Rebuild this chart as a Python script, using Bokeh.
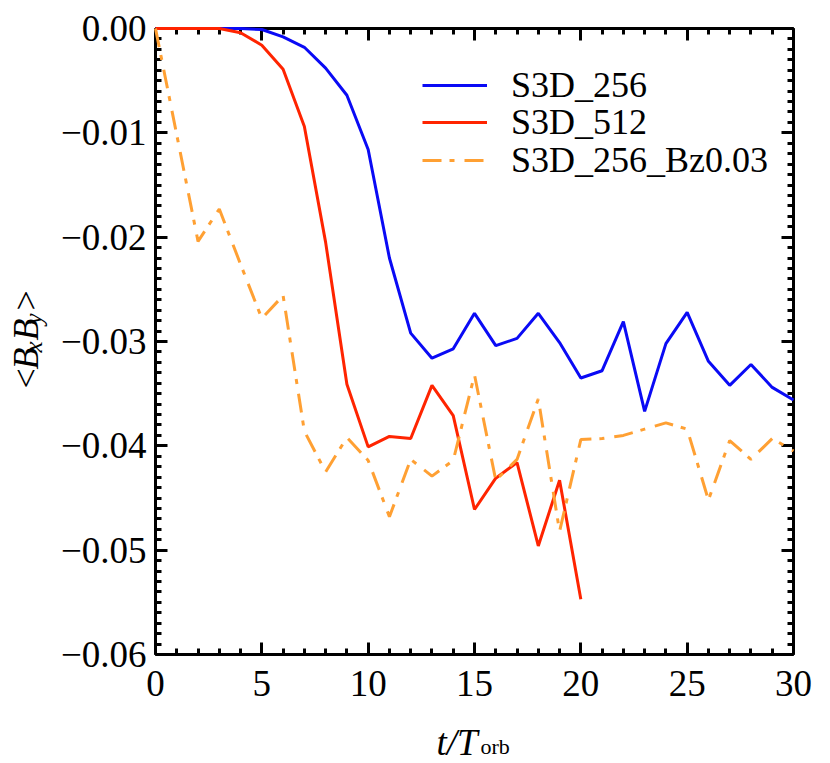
from math import pi
from bokeh.plotting import figure
from bokeh.models import (Range1d, LinearAxis, FixedTicker, CustomJSTickFormatter,
                          Legend, LegendItem, Label)
from bokeh.embed import file_html
from bokeh.resources import INLINE

# ---- data ----
t_256 = list(range(0, 31))
bxby_256 = [0.0, 0.0, 0.0, 0.0, 0.0, -0.0001, -0.0008, -0.0018, -0.0038, -0.0064,
            -0.0116, -0.0220, -0.0292, -0.0316, -0.0307, -0.0273, -0.0304, -0.0297,
            -0.0273, -0.0301, -0.0335, -0.0328, -0.0281, -0.0367, -0.0302, -0.0272,
            -0.0319, -0.0342, -0.0322, -0.0344, -0.0356]
t_512 = list(range(0, 21))
bxby_512 = [0.0, 0.0, 0.0, 0.0, -0.0004, -0.0016, -0.0039, -0.0094, -0.0205, -0.0341,
            -0.0401, -0.0391, -0.0393, -0.0342, -0.0371, -0.0461, -0.0431, -0.0416,
            -0.0496, -0.0433, -0.0547]
t_bz = list(range(0, 31))
bxby_bz = [0.0, -0.0102, -0.0204, -0.0173, -0.0226, -0.0278, -0.0256, -0.0386, -0.0425,
           -0.0392, -0.0414, -0.0468, -0.0413, -0.0429, -0.0414, -0.0332, -0.0433,
           -0.0413, -0.0355, -0.0482, -0.0394, -0.0393, -0.0390, -0.0384, -0.0378,
           -0.0384, -0.0452, -0.0395, -0.0413, -0.0393, -0.0405]
series_labels = ["S3D_256", "S3D_512", "S3D_256_Bz0.03"]
x_min, x_max = 0, 30
y_min, y_max = -0.06, 0.0
xticks = [0, 5, 10, 15, 20, 25, 30]
xminor = list(range(0, 31))
yticks = [0.0, -0.01, -0.02, -0.03, -0.04, -0.05, -0.06]
yminor = [-i / 1000 for i in range(0, 61)]

FONT = "Liberation Serif"
W, H = 830, 763
# frame box (pixels on the canvas) inside which the data window lies
BL, BR, BT, BB = 155, 793, 28, 654
xs = (x_max - x_min) / (BR - BL)
ys = (y_max - y_min) / (BB - BT)

p = figure(width=W, height=H, output_backend="svg", toolbar_location=None,
           x_range=Range1d(x_min - BL * xs, x_max + (W - BR) * xs),
           y_range=Range1d(y_min - (H - BB) * ys, y_max + BT * ys),
           x_axis_location=None, y_axis_location=None,
           min_border=0, min_border_left=0, min_border_right=0,
           min_border_top=0, min_border_bottom=0)
p.xgrid.grid_line_color = None
p.ygrid.grid_line_color = None
p.outline_line_color = None
p.background_fill_color = "white"
p.border_fill_color = "white"

r1 = p.line(t_256, bxby_256, line_color="#0A0AF5", line_width=3, level="overlay")
r2 = p.line(t_512, bxby_512, line_color="#FF2400", line_width=3, level="overlay")
r3 = p.line(t_bz, bxby_bz, line_color="#FFA033", line_width=3, line_dash="19 8 5 10",
            level="overlay")

bottom = LinearAxis(fixed_location=y_min)
top = LinearAxis(fixed_location=y_max)
left = LinearAxis(fixed_location=x_min)
right = LinearAxis(fixed_location=x_max)
p.add_layout(bottom, "below")
p.add_layout(top, "above")
p.add_layout(left, "left")
p.add_layout(right, "right")

yfmt = CustomJSTickFormatter(code="return tick.toFixed(2).replace('-', '\\u2212');")
blank = CustomJSTickFormatter(code="return '';")

for ax, horiz, main in [(bottom, True, True), (top, True, False),
                        (left, False, True), (right, False, False)]:
    if horiz:
        ax.ticker = FixedTicker(ticks=xticks, minor_ticks=xminor)
        ax.bounds = (x_min, x_max)
    else:
        ax.ticker = FixedTicker(ticks=yticks, minor_ticks=yminor)
        ax.bounds = (y_min, y_max)
    ax.axis_line_width = 3
    ax.axis_line_color = "black"
    ax.major_tick_in = 12
    ax.major_tick_out = 0
    ax.minor_tick_in = 6
    ax.minor_tick_out = 0
    ax.major_tick_line_width = 3
    ax.minor_tick_line_width = 3
    ax.major_tick_line_color = "black"
    ax.minor_tick_line_color = "black"
    if main:
        ax.major_label_text_font = FONT
        ax.major_label_text_font_size = "37px"
        ax.major_label_text_color = "black"
        if not horiz:
            ax.formatter = yfmt
            ax.major_label_standoff = 9
        else:
            ax.major_label_standoff = 16
    else:
        ax.formatter = blank
        ax.major_label_text_font_size = "1px"
        ax.major_label_standoff = 0

# x axis label t/T_orb
p.add_layout(Label(x=15, y=y_min, x_offset=-38, y_offset=-88, text="t/T",
                   text_font=FONT, text_font_style="italic", text_font_size="37px",
                   text_align="left", text_baseline="alphabetic", text_color="black"))
p.add_layout(Label(x=15, y=y_min, x_offset=6, y_offset=-92, text="orb",
                   text_font=FONT, text_font_size="22px",
                   text_align="left", text_baseline="alphabetic", text_color="black"))

# y axis label <B_x B_y>
ypieces = [("<", -47, -130, "normal", "36px"),
           ("B", -28, -130, "italic", "36px"),
           ("x", -11, -122, "italic", "25px"),
           ("B", 1, -130, "italic", "36px"),
           ("y", 17, -122, "italic", "25px"),
           (">", 31, -130, "normal", "36px")]
for txt, yo, xo, style, size in ypieces:
    p.add_layout(Label(x=x_min, y=-0.03, x_offset=xo, y_offset=yo, text=txt, angle=pi / 2,
                       text_font=FONT, text_font_style=style, text_font_size=size,
                       text_align="left", text_baseline="alphabetic", text_color="black"))

# one legend per row so the rows sit as tightly as in the original
for lbl, rend, ypos in [(series_labels[0], r1, 657), (series_labels[1], r2, 620),
                        (series_labels[2], r3, 582)]:
    lg = Legend(items=[LegendItem(label=lbl, renderers=[rend])],
                location=(422, ypos), glyph_width=65, label_standoff=24,
                padding=0, margin=0, spacing=0,
                label_text_font=FONT, label_text_font_size="36px",
                label_text_color="black",
                border_line_color=None, background_fill_alpha=0)
    p.add_layout(lg)

open("out.html", "w").write(file_html(p, INLINE))
